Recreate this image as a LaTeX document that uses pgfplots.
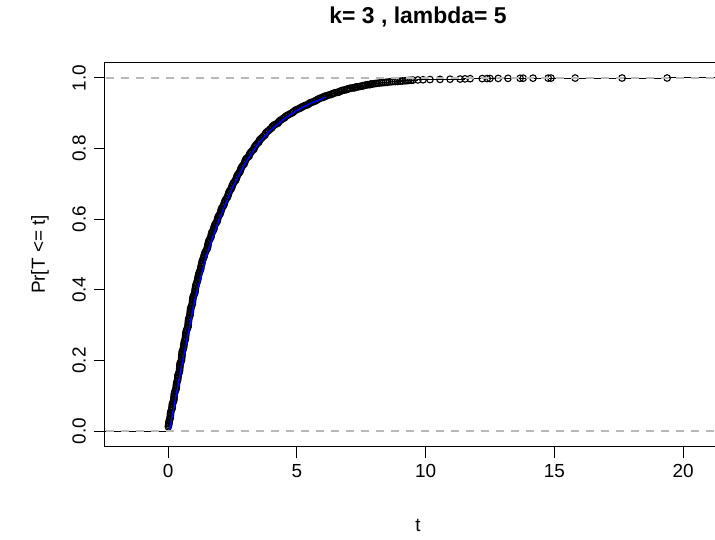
\documentclass[border=0pt]{standalone}
\usepackage{pgfplots}
\pgfplotsset{compat=1.18}
\usepackage{pgfplotstable}
\usepackage{fontspec}
\setmainfont{Liberation Sans}
\definecolor{ablgray}{RGB}{185,185,185}
\definecolor{rblue}{RGB}{0,0,255}

\pgfplotstableread{
t F
0.01 0.012
0.02 0.016
0.03 0.020
0.035 0.024
0.04 0.028
0.06 0.032
0.08 0.036
0.085 0.040
0.09 0.045
0.095 0.049
0.10 0.053
0.12 0.058
0.15 0.062
0.155 0.066
0.16 0.070
0.165 0.074
0.17 0.078
0.20 0.082
0.22 0.086
0.225 0.090
0.23 0.094
0.235 0.098
0.24 0.103
0.25 0.107
0.26 0.111
0.29 0.115
0.31 0.119
0.315 0.123
0.32 0.127
0.325 0.131
0.33 0.136
0.35 0.140
0.37 0.144
0.375 0.148
0.38 0.152
0.385 0.156
0.39 0.160
0.42 0.164
0.44 0.168
0.445 0.172
0.45 0.177
0.455 0.181
0.46 0.185
0.465 0.189
0.47 0.193
0.50 0.196
0.52 0.200
0.525 0.204
0.53 0.209
0.535 0.213
0.54 0.217
0.545 0.221
0.55 0.226
0.58 0.230
0.60 0.235
0.605 0.239
0.61 0.243
0.62 0.247
0.63 0.252
0.65 0.256
0.67 0.260
0.675 0.264
0.68 0.269
0.685 0.273
0.69 0.278
0.705 0.282
0.72 0.286
0.745 0.290
0.77 0.294
0.775 0.298
0.78 0.302
0.785 0.306
0.79 0.310
0.795 0.314
0.80 0.318
0.825 0.322
0.85 0.327
0.855 0.331
0.86 0.335
0.865 0.339
0.87 0.343
0.88 0.347
0.89 0.351
0.915 0.355
0.94 0.359
0.945 0.363
0.95 0.368
0.955 0.372
0.96 0.376
0.975 0.380
0.99 0.383
1.015 0.387
1.04 0.391
1.045 0.395
1.05 0.400
1.06 0.404
1.07 0.408
1.08 0.412
1.09 0.416
1.115 0.420
1.14 0.425
1.15 0.429
1.16 0.433
1.17 0.437
1.18 0.441
1.195 0.445
1.21 0.449
1.235 0.453
1.26 0.457
1.27 0.461
1.28 0.466
1.295 0.470
1.31 0.474
1.32 0.478
1.33 0.483
1.36 0.487
1.39 0.492
1.40 0.496
1.41 0.500
1.43 0.504
1.45 0.508
1.485 0.512
1.52 0.516
1.53 0.520
1.54 0.524
1.55 0.528
1.56 0.532
1.575 0.536
1.59 0.540
1.625 0.544
1.66 0.548
1.67 0.552
1.68 0.555
1.69 0.559
1.70 0.563
1.735 0.566
1.77 0.570
1.78 0.574
1.79 0.578
1.805 0.581
1.82 0.585
1.86 0.589
1.90 0.593
1.91 0.596
1.92 0.600
1.935 0.604
1.95 0.608
1.985 0.611
2.02 0.615
2.035 0.619
2.05 0.623
2.065 0.627
2.08 0.631
2.12 0.635
2.16 0.639
2.175 0.643
2.19 0.647
2.21 0.651
2.23 0.655
2.27 0.659
2.31 0.663
2.325 0.667
2.34 0.671
2.36 0.675
2.38 0.679
2.42 0.683
2.46 0.687
2.475 0.691
2.49 0.695
2.515 0.699
2.54 0.703
2.585 0.707
2.63 0.711
2.645 0.715
2.66 0.718
2.68 0.722
2.70 0.726
2.745 0.730
2.79 0.734
2.805 0.738
2.82 0.742
2.845 0.746
2.87 0.749
2.915 0.753
2.96 0.757
2.975 0.761
2.99 0.765
3.015 0.769
3.04 0.772
3.09 0.775
3.14 0.778
3.155 0.782
3.17 0.785
3.20 0.788
3.23 0.791
3.28 0.795
3.33 0.798
3.345 0.802
3.36 0.805
3.39 0.808
3.42 0.811
3.47 0.815
3.52 0.818
3.54 0.822
3.56 0.825
3.605 0.828
3.65 0.831
3.705 0.835
3.76 0.838
3.78 0.842
3.80 0.845
3.85 0.848
3.90 0.851
3.96 0.855
4.02 0.858
4.04 0.861
4.06 0.863
4.105 0.866
4.15 0.868
4.21 0.870
4.27 0.872
4.29 0.875
4.31 0.877
4.355 0.880
4.40 0.882
4.46 0.885
4.52 0.887
4.55 0.890
4.58 0.892
4.63 0.894
4.68 0.896
4.75 0.899
4.82 0.901
4.85 0.903
4.88 0.905
4.93 0.908
4.98 0.910
5.05 0.912
5.12 0.914
5.15 0.916
5.18 0.917
5.23 0.919
5.28 0.921
5.35 0.923
5.42 0.924
5.45 0.926
5.48 0.928
5.53 0.930
5.58 0.931
5.65 0.933
5.72 0.935
5.75 0.937
5.78 0.938
5.83 0.940
5.88 0.942
5.95 0.944
6.02 0.945
6.05 0.947
6.08 0.948
6.13 0.949
6.18 0.950
6.25 0.952
6.32 0.953
6.35 0.954
6.38 0.955
6.43 0.957
6.48 0.958
6.55 0.959
6.62 0.960
6.65 0.961
6.68 0.962
6.73 0.964
6.78 0.965
6.85 0.966
6.92 0.967
6.95 0.968
6.98 0.969
7.03 0.970
7.08 0.971
7.15 0.972
7.22 0.972
7.25 0.973
7.28 0.974
7.33 0.975
7.38 0.975
7.45 0.976
7.52 0.977
7.55 0.978
7.58 0.978
7.63 0.979
7.68 0.980
7.75 0.981
7.82 0.981
7.85 0.982
7.88 0.983
7.94 0.983
8.00 0.984
8.07 0.9845
8.14 0.985
8.22 0.986
8.30 0.9865
8.37 0.987
8.45 0.9875
8.52 0.988
8.60 0.989
8.68 0.9895
8.75 0.990
8.83 0.9900
8.92 0.9903
9.02 0.991
9.10 0.9915
9.20 0.992
9.28 0.9925
9.35 0.993
9.43 0.9935
9.51 0.9940
9.70 0.9945
9.90 0.9950
10.17 0.9955
10.56 0.9960
10.95 0.9965
11.34 0.9970
11.53 0.9975
11.73 0.9980
12.20 0.9982
12.39 0.9984
12.50 0.9986
12.82 0.9988
13.20 0.9990
13.67 0.9992
13.79 0.9994
14.17 0.9995
14.76 0.9996
14.87 0.9997
15.81 0.9998
17.63 0.9999
19.38 1.0000
}\ecdftab

\pgfplotstableread{
t F
0.05 0.000
0.53 0.185
1.03 0.370
1.52 0.505
2.02 0.607
2.50 0.690
3.00 0.760
3.50 0.814
4.00 0.854
4.50 0.884
5.00 0.908
5.50 0.927
6.10 0.945
}\theotab

\begin{document}
\begin{tikzpicture}
\begin{axis}[
  at={(0,0)}, anchor=south west,
  scale only axis, width=626bp, height=384.8bp,
  clip mode=individual,
  xmin=-2.45, xmax=21.86, ymin=-0.045, ymax=1.045,
  xtick={0,5,10,15,20},
  ytick={0,0.2,0.4,0.6,0.8,1.0},
  yticklabels={0.0,0.2,0.4,0.6,0.8,1.0},
  tick align=outside, major tick length=11bp,
  tick style={black, line width=1bp},
  axis line style={line width=1bp},
  xtick pos=bottom, ytick pos=left,
  /pgf/number format/assume math mode=true,
  ticklabel style={font=\fontsize{19}{22}\selectfont},
  xticklabel style={anchor=north, inner sep=0pt, yshift=-6bp},
  yticklabel style={rotate=90, anchor=south, inner sep=0pt, yshift=8bp},
  xlabel={t}, ylabel={Pr[T <= t]},
  label style={font=\fontsize{19}{22}\selectfont},
  x label style={at={(axis description cs:0.5,-0.2053)}, anchor=center},
  y label style={at={(axis description cs:-0.1038,0.5)}, anchor=center, rotate=0},
  title={k= 3 , lambda= 5},
  title style={font=\bfseries\fontsize{23}{27}\selectfont, at={(axis description cs:0.5,1.101)}, anchor=center},
]
% ECDF steps
\addplot[black, line width=1bp, const plot mark left, mark=none] table[x=t,y=F] {\ecdftab};
\addplot[black, line width=1bp] coordinates {(-3,0) (0.01,0)};
\addplot[black, line width=1bp] coordinates {(19.38,1) (23,1)};
% ECDF points
\addplot[only marks, mark=o, mark size=3.3bp, mark options={black, line width=1.1bp}] table[x=t,y=F] {\ecdftab};
% theoretical CDF
\addplot[rblue, line width=1.5bp] table[x=t,y=F] {\theotab};
% reference lines
\addplot[ablgray, line width=1.2bp, dash pattern=on 8bp off 7bp] coordinates {(-3,0) (23,0)};
\addplot[ablgray, line width=1.2bp, dash pattern=on 8bp off 7bp] coordinates {(-3,1) (23,1)};
\end{axis}
\pgfresetboundingbox
\useasboundingbox (-105bp,-93.1bp) rectangle (610bp,446.9bp);
\end{tikzpicture}
\end{document}
